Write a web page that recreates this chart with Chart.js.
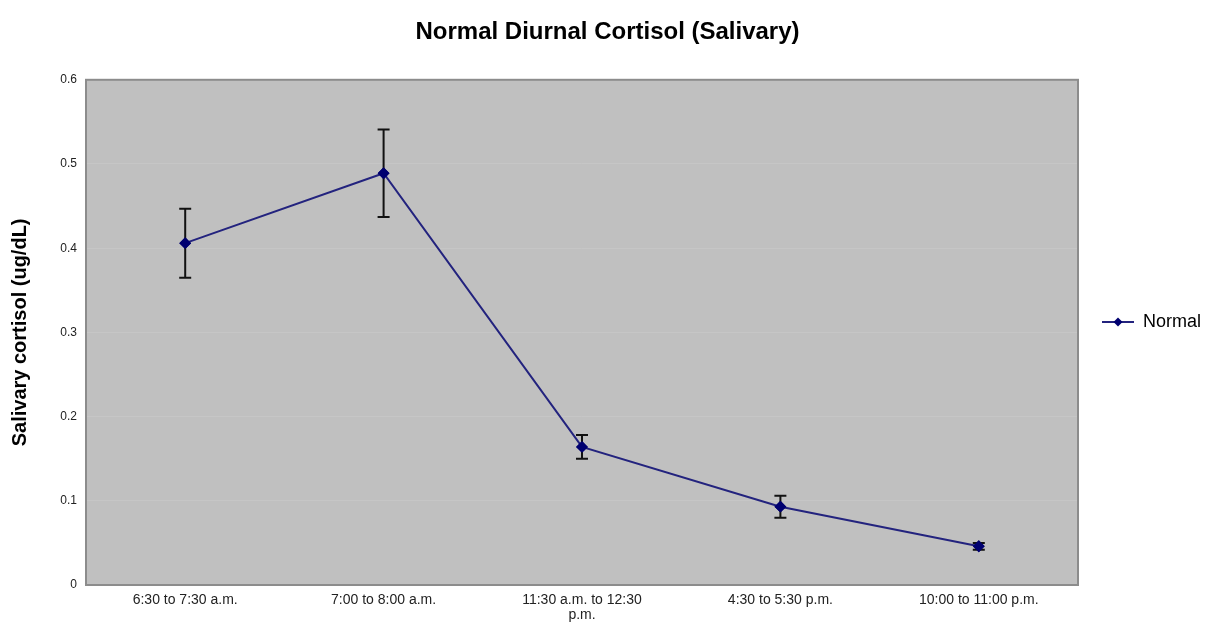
<!DOCTYPE html>
<html>
<head>
<meta charset="utf-8">
<script src="https://cdn.jsdelivr.net/npm/chart.js@4"></script>
<style>
  html, body { margin: 0; padding: 0; background: #fff; }
  #wrap { width: 1219px; height: 632px; }
</style>
</head>
<body>
<div id="wrap"><canvas id="cortisolChart" width="1219" height="632"></canvas></div>
<script>
const timeLabels = [
    "6:30 to 7:30 a.m.",
    "7:00 to 8:00 a.m.",
    ["11:30 a.m. to 12:30", "p.m."],
    "4:30 to 5:30 p.m.",
    "10:00 to 11:00 p.m."
];
const normalValues = [0.406, 0.489, 0.164, 0.093, 0.046];
const normalErrors = [0.041, 0.052, 0.014, 0.013, 0.004];
const yTicks = [0, 0.1, 0.2, 0.3, 0.4, 0.5, 0.6];

const lineColor = "#23237e";
const markerColor = "#000070";
const fontFamily = "Liberation Sans, Arial, sans-serif";

// legend marker: short line with a diamond in the middle
function makeLegendMarker() {
    const c = document.createElement("canvas");
    c.width = 32;
    c.height = 12;
    const g = c.getContext("2d");
    g.strokeStyle = lineColor;
    g.lineWidth = 2;
    g.beginPath();
    g.moveTo(0, 6);
    g.lineTo(32, 6);
    g.stroke();
    g.fillStyle = markerColor;
    g.beginPath();
    g.moveTo(16, 1.5);
    g.lineTo(20.5, 6);
    g.lineTo(16, 10.5);
    g.lineTo(11.5, 6);
    g.closePath();
    g.fill();
    return c;
}

const plotBackground = {
    id: "plotBackground",
    beforeDraw(chart) {
        const { ctx, chartArea: a } = chart;
        ctx.save();
        ctx.fillStyle = "#c0c0c0";
        ctx.fillRect(a.left, a.top, a.right - a.left, a.bottom - a.top);
        ctx.restore();
    },
    afterDatasetsDraw(chart) {
        const { ctx, chartArea: a } = chart;
        ctx.save();
        ctx.strokeStyle = "#8c8c8c";
        ctx.lineWidth = 2;
        ctx.strokeRect(a.left, a.top, a.right - a.left, a.bottom - a.top);
        ctx.restore();
    }
};

const errorBars = {
    id: "errorBars",
    afterDatasetsDraw(chart) {
        const { ctx } = chart;
        const yScale = chart.scales.y;
        const meta = chart.getDatasetMeta(0);
        ctx.save();
        ctx.strokeStyle = "#111";
        ctx.lineWidth = 2;
        meta.data.forEach((pt, i) => {
            const v = normalValues[i];
            const e = normalErrors[i];
            const top = yScale.getPixelForValue(v + e);
            const bottom = yScale.getPixelForValue(v - e);
            ctx.beginPath();
            ctx.moveTo(pt.x, top);
            ctx.lineTo(pt.x, bottom);
            ctx.moveTo(pt.x - 6, top);
            ctx.lineTo(pt.x + 6, top);
            ctx.moveTo(pt.x - 6, bottom);
            ctx.lineTo(pt.x + 6, bottom);
            ctx.stroke();
        });
        ctx.restore();
        // markers back on top of the bars
        meta.data.forEach(pt => pt.draw(ctx, chart.chartArea));
    }
};

const ctx = document.getElementById("cortisolChart").getContext("2d");
new Chart(ctx, {
    type: "line",
    data: {
        labels: timeLabels,
        datasets: [{
            label: "Normal",
            data: normalValues,
            borderColor: lineColor,
            borderWidth: 2,
            backgroundColor: markerColor,
            pointStyle: "rectRot",
            pointRadius: 4.5,
            pointBackgroundColor: markerColor,
            pointBorderColor: markerColor,
            tension: 0
        }]
    },
    options: {
        responsive: false,
        animation: false,
        layout: { padding: { top: 12, left: 4, right: 8, bottom: 0 } },
        scales: {
            x: {
                offset: true,
                grid: { display: false, drawTicks: false },
                border: { display: false },
                afterFit(axis) { axis.height = 47; },
                ticks: {
                    color: "#222",
                    font: { family: fontFamily, size: 14, lineHeight: 1.1 },
                    maxRotation: 0,
                    autoSkip: false,
                    padding: 7
                }
            },
            y: {
                min: 0,
                max: 0.6,
                afterBuildTicks(axis) {
                    axis.ticks = yTicks.map(v => ({ value: v }));
                },
                afterFit(axis) { axis.width = 82; },
                grid: { color: "rgba(215,215,215,0.25)", drawTicks: false },
                border: { display: false },
                ticks: {
                    color: "#222",
                    font: { family: fontFamily, size: 12 },
                    padding: 9,
                    callback: v => String(Math.round(v * 10) / 10)
                },
                title: {
                    display: true,
                    text: "Salivary cortisol (ug/dL)",
                    color: "#000",
                    font: { family: fontFamily, size: 20, weight: "bold" },
                    padding: { top: 4, bottom: 16 }
                }
            }
        },
        plugins: {
            title: {
                display: true,
                text: "Normal Diurnal Cortisol (Salivary)",
                color: "#000",
                font: { family: fontFamily, size: 24, weight: "bold" },
                padding: { top: 6, bottom: 33 }
            },
            legend: {
                position: "right",
                labels: {
                    usePointStyle: true,
                    pointStyle: makeLegendMarker(),
                    pointStyleWidth: 32,
                    color: "#000",
                    font: { family: fontFamily, size: 18 },
                    padding: 24
                }
            },
            tooltip: { enabled: false }
        }
    },
    plugins: [plotBackground, errorBars]
});
</script>
</body>
</html>
